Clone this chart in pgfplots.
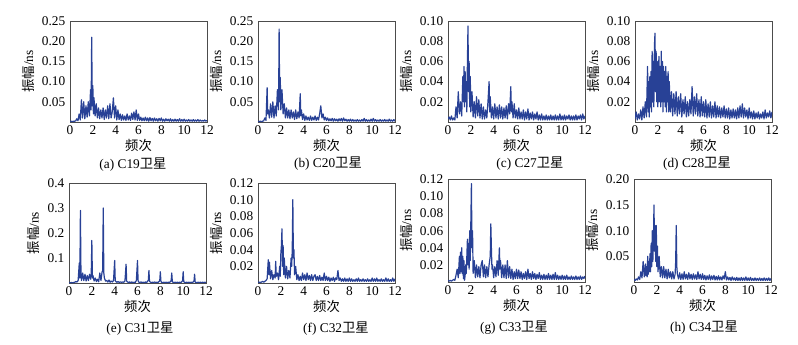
\documentclass[border=0pt]{standalone}
\usepackage{pgfplots}
\pgfplotsset{compat=1.18}
\usepackage{fontspec}
\setmainfont{Liberation Serif}
\newfontfamily\cjk{Noto Sans CJK SC}
\definecolor{sat}{RGB}{40,65,150}
\tikzset{sd/.style={draw=sat, line width=0.9pt, line join=round, mark=none}}
\pgfplotsset{
  sp/.style={
    scale only axis, width=102.75pt, anchor=south west,
    xmin=0, xmax=12, ymin=0, xtick={0,2,...,12},
    major tick length=0pt,
    axis line style={black!70, line width=0.5pt},
    tick label style={font=\fontsize{10}{11}\selectfont},
    label style={font=\fontsize{10}{11}\selectfont},
    xlabel={\cjk 频次}, ylabel={{\cjk 振幅}/ns},
    xlabel style={yshift=3pt},
    ylabel style={yshift=-1pt},
    xticklabel style={yshift=1pt},
    /pgf/number format/assume math mode=true,
    scaled y ticks=false,
    yticklabel style={/pgf/number format/.cd, fixed, fixed zerofill, precision=2},
    xticklabel style={/pgf/number format/.cd, fixed, precision=0},
  }
}
\begin{document}
\begin{tikzpicture}
\useasboundingbox (0,0) rectangle (598.5pt,258pt);
% (a) C19
\begin{axis}[sp, at={(52.5pt,166.5pt)}, height=75.75pt, ymax=0.25, ytick={0.05,0.10,0.15,0.20,0.25}]
\addplot[sd] coordinates {(0.0,.001)(0.1,.002)(0.2,.001)(0.3,.002)(0.4,.002)(0.5,.003)(0.6,.008)(0.7,.003)(0.8,.02)(0.9,.005)(1.0,.055)(1.1,.01)(1.2,.05)(1.3,.008)(1.4,.04)(1.5,.012)(1.6,.05)(1.7,.015)(1.8,.08)(1.85,.03)(1.9,.21)(1.95,.04)(2.0,.09)(2.05,.02)(2.1,.06)(2.2,.015)(2.3,.045)(2.4,.01)(2.5,.035)(2.6,.008)(2.7,.03)(2.8,.01)(2.9,.035)(3.0,.006)(3.1,.03)(3.2,.01)(3.3,.04)(3.4,.008)(3.5,.045)(3.6,.01)(3.7,.025)(3.8,.06)(3.9,.01)(4.0,.04)(4.1,.005)(4.2,.03)(4.3,.006)(4.4,.02)(4.5,.004)(4.6,.018)(4.7,.005)(4.8,.015)(4.9,.004)(5.0,.02)(5.1,.005)(5.2,.015)(5.3,.004)(5.4,.022)(5.5,.006)(5.6,.025)(5.7,.005)(5.8,.03)(5.9,.004)(6.0,.02)(6.1,.004)(6.2,.012)(6.3,.003)(6.4,.01)(6.5,.003)(6.6,.012)(6.7,.003)(6.8,.01)(6.9,.002)(7.0,.011)(7.1,.003)(7.2,.009)(7.3,.002)(7.4,.01)(7.5,.003)(7.6,.008)(7.7,.002)(7.8,.009)(7.9,.003)(8.0,.01)(8.1,.002)(8.2,.007)(8.3,.002)(8.4,.008)(8.5,.003)(8.6,.007)(8.7,.002)(8.8,.008)(8.9,.002)(9.0,.006)(9.1,.002)(9.2,.007)(9.3,.002)(9.4,.006)(9.5,.002)(9.6,.008)(9.7,.002)(9.8,.006)(9.9,.002)(10.0,.007)(10.1,.002)(10.2,.005)(10.3,.002)(10.4,.006)(10.5,.002)(10.6,.005)(10.7,.002)(10.8,.006)(10.9,.002)(11.0,.005)(11.1,.002)(11.2,.006)(11.3,.002)(11.4,.005)(11.5,.002)(11.6,.004)(11.7,.002)(11.8,.005)(11.9,.002)(12.0,.004)};
\end{axis}
% (b) C20
\begin{axis}[sp, at={(193.5pt,166.5pt)}, height=75.75pt, ymax=0.25, ytick={0.05,0.10,0.15,0.20,0.25}]
\addplot[sd] coordinates {(0.0,.001)(0.1,.001)(0.2,.002)(0.3,.001)(0.4,.002)(0.5,.003)(0.6,.01)(0.7,.004)(0.8,.085)(0.85,.02)(0.9,.03)(1.0,.01)(1.1,.045)(1.2,.012)(1.3,.05)(1.4,.01)(1.5,.04)(1.6,.015)(1.7,.08)(1.8,.03)(1.85,.23)(1.9,.05)(1.95,.11)(2.0,.03)(2.1,.08)(2.2,.02)(2.3,.045)(2.4,.01)(2.5,.035)(2.6,.01)(2.7,.03)(2.8,.008)(2.9,.03)(3.0,.01)(3.1,.025)(3.2,.006)(3.3,.03)(3.4,.008)(3.5,.025)(3.6,.01)(3.7,.07)(3.75,.015)(3.8,.03)(3.9,.006)(4.0,.02)(4.1,.004)(4.2,.015)(4.3,.005)(4.4,.012)(4.5,.004)(4.6,.015)(4.7,.004)(4.8,.012)(4.9,.005)(5.0,.015)(5.1,.004)(5.2,.012)(5.3,.005)(5.4,.02)(5.5,.04)(5.6,.01)(5.7,.02)(5.8,.005)(5.9,.012)(6.0,.004)(6.1,.01)(6.2,.003)(6.3,.008)(6.4,.003)(6.5,.009)(6.6,.002)(6.7,.008)(6.8,.003)(6.9,.007)(7.0,.002)(7.1,.008)(7.2,.003)(7.3,.009)(7.4,.002)(7.5,.01)(7.6,.003)(7.7,.007)(7.8,.002)(7.9,.006)(8.0,.002)(8.1,.007)(8.2,.002)(8.3,.006)(8.4,.002)(8.5,.005)(8.6,.002)(8.7,.006)(8.8,.002)(8.9,.005)(9.0,.002)(9.1,.006)(9.2,.002)(9.3,.009)(9.4,.002)(9.5,.006)(9.6,.002)(9.7,.005)(9.8,.002)(9.9,.007)(10.0,.002)(10.1,.009)(10.2,.002)(10.3,.006)(10.4,.002)(10.5,.005)(10.6,.002)(10.7,.006)(10.8,.002)(10.9,.005)(11.0,.002)(11.1,.006)(11.2,.002)(11.3,.005)(11.4,.002)(11.5,.007)(11.6,.002)(11.7,.005)(11.8,.002)(11.9,.006)(12.0,.002)};
\end{axis}
% (c) C27
\begin{axis}[sp, at={(336pt,166.5pt)}, height=75.75pt, ymax=0.10, ytick={0.02,0.04,0.06,0.08,0.10}]
\addplot[sd] coordinates {(0.0,.003)(0.1,.005)(0.2,.002)(0.3,.006)(0.4,.002)(0.5,.004)(0.6,.002)(0.7,.015)(0.8,.004)(0.9,.03)(1.0,.008)(1.1,.02)(1.2,.006)(1.3,.045)(1.35,.02)(1.4,.055)(1.45,.015)(1.5,.05)(1.55,.02)(1.6,.04)(1.65,.01)(1.7,.06)(1.75,.095)(1.8,.03)(1.85,.06)(1.9,.015)(1.95,.045)(2.0,.01)(2.1,.03)(2.2,.005)(2.3,.02)(2.4,.004)(2.5,.025)(2.6,.006)(2.7,.022)(2.8,.004)(2.9,.018)(3.0,.003)(3.1,.015)(3.2,.003)(3.3,.012)(3.4,.004)(3.5,.02)(3.6,.04)(3.65,.01)(3.7,.025)(3.8,.004)(3.9,.015)(4.0,.003)(4.1,.018)(4.2,.004)(4.3,.015)(4.4,.003)(4.5,.017)(4.6,.004)(4.7,.015)(4.8,.003)(4.9,.014)(5.0,.004)(5.1,.016)(5.2,.003)(5.3,.018)(5.4,.008)(5.5,.035)(5.55,.01)(5.6,.02)(5.7,.004)(5.8,.018)(5.9,.004)(6.0,.012)(6.1,.003)(6.2,.014)(6.3,.003)(6.4,.01)(6.5,.003)(6.6,.012)(6.7,.002)(6.8,.01)(6.9,.003)(7.0,.013)(7.1,.002)(7.2,.009)(7.3,.003)(7.4,.01)(7.5,.002)(7.6,.008)(7.7,.003)(7.8,.01)(7.9,.002)(8.0,.007)(8.1,.002)(8.2,.008)(8.3,.002)(8.4,.006)(8.5,.002)(8.6,.007)(8.7,.002)(8.8,.006)(8.9,.002)(9.0,.007)(9.1,.002)(9.2,.006)(9.3,.002)(9.4,.007)(9.5,.002)(9.6,.006)(9.7,.002)(9.8,.008)(9.9,.002)(10.0,.006)(10.1,.002)(10.2,.007)(10.3,.002)(10.4,.006)(10.5,.003)(10.6,.007)(10.7,.002)(10.8,.006)(10.9,.002)(11.0,.006)(11.1,.002)(11.2,.007)(11.3,.002)(11.4,.006)(11.5,.003)(11.6,.007)(11.7,.002)(11.8,.008)(11.9,.003)(12.0,.006)};
\end{axis}
% (d) C28
\begin{axis}[sp, at={(476.25pt,166.5pt)}, height=75.75pt, ymax=0.10, ytick={0.02,0.04,0.06,0.08,0.10}]
\addplot[sd] coordinates {(0.0,.003)(0.1,.01)(0.2,.002)(0.3,.008)(0.4,.003)(0.5,.012)(0.6,.002)(0.7,.015)(0.8,.004)(0.9,.02)(1.0,.005)(1.05,.03)(1.1,.055)(1.15,.01)(1.2,.04)(1.25,.005)(1.3,.045)(1.35,.015)(1.4,.05)(1.45,.01)(1.5,.07)(1.55,.02)(1.6,.06)(1.65,.015)(1.7,.075)(1.75,.088)(1.8,.03)(1.85,.07)(1.9,.02)(1.95,.06)(2.0,.015)(2.05,.05)(2.1,.065)(2.15,.02)(2.2,.055)(2.25,.015)(2.3,.07)(2.35,.02)(2.4,.06)(2.45,.01)(2.5,.055)(2.55,.02)(2.6,.05)(2.65,.015)(2.7,.055)(2.75,.01)(2.8,.045)(2.85,.02)(2.9,.05)(2.95,.01)(3.0,.04)(3.1,.01)(3.2,.03)(3.3,.006)(3.4,.028)(3.5,.008)(3.6,.03)(3.7,.006)(3.8,.025)(3.9,.008)(4.0,.028)(4.1,.005)(4.2,.022)(4.3,.008)(4.4,.025)(4.5,.005)(4.6,.02)(4.7,.006)(4.8,.022)(4.9,.008)(5.0,.035)(5.1,.006)(5.2,.025)(5.3,.008)(5.4,.028)(5.5,.006)(5.6,.022)(5.7,.005)(5.8,.025)(5.9,.006)(6.0,.02)(6.1,.005)(6.2,.022)(6.3,.004)(6.4,.018)(6.5,.005)(6.6,.02)(6.7,.004)(6.8,.016)(6.9,.005)(7.0,.02)(7.1,.004)(7.2,.016)(7.3,.005)(7.4,.015)(7.5,.004)(7.6,.014)(7.7,.005)(7.8,.016)(7.9,.004)(8.0,.013)(8.1,.004)(8.2,.014)(8.3,.003)(8.4,.012)(8.5,.004)(8.6,.013)(8.7,.004)(8.8,.012)(8.9,.003)(9.0,.014)(9.1,.004)(9.2,.016)(9.3,.005)(9.4,.018)(9.5,.004)(9.6,.014)(9.7,.005)(9.8,.012)(9.9,.003)(10.0,.014)(10.1,.004)(10.2,.01)(10.3,.003)(10.4,.011)(10.5,.003)(10.6,.009)(10.7,.004)(10.8,.01)(10.9,.003)(11.0,.008)(11.1,.004)(11.2,.01)(11.3,.003)(11.4,.012)(11.5,.004)(11.6,.009)(11.7,.005)(11.8,.011)(11.9,.004)(12.0,.01)};
\end{axis}
% (e) C31
\begin{axis}[sp, at={(51.75pt,45.75pt)}, height=75pt, ymax=0.4, ytick={0.1,0.2,0.3,0.4}, yticklabel style={/pgf/number format/.cd, fixed, fixed zerofill, precision=1}]
\addplot[sd] coordinates {(0.0,.002)(0.1,.001)(0.2,.002)(0.3,.001)(0.4,.002)(0.5,.003)(0.6,.006)(0.7,.004)(0.8,.01)(0.9,.08)(0.95,.02)(1.0,.29)(1.05,.03)(1.1,.01)(1.2,.04)(1.3,.01)(1.4,.035)(1.5,.008)(1.6,.03)(1.7,.01)(1.8,.035)(1.9,.015)(1.95,.04)(2.0,.17)(2.05,.02)(2.1,.03)(2.2,.008)(2.3,.02)(2.4,.006)(2.5,.015)(2.6,.005)(2.7,.04)(2.8,.01)(2.9,.045)(2.95,.05)(3.0,.30)(3.05,.04)(3.1,.02)(3.2,.008)(3.3,.01)(3.4,.004)(3.5,.012)(3.6,.003)(3.7,.008)(3.8,.004)(3.9,.01)(4.0,.09)(4.05,.01)(4.1,.006)(4.2,.003)(4.3,.006)(4.4,.002)(4.5,.005)(4.6,.002)(4.7,.004)(4.8,.003)(4.9,.008)(5.0,.075)(5.05,.008)(5.1,.005)(5.2,.002)(5.3,.004)(5.4,.002)(5.5,.004)(5.6,.002)(5.7,.003)(5.8,.002)(5.9,.01)(6.0,.09)(6.05,.01)(6.1,.004)(6.2,.002)(6.3,.004)(6.4,.002)(6.5,.003)(6.6,.002)(6.7,.004)(6.8,.002)(6.9,.008)(6.95,.012)(7.0,.05)(7.05,.008)(7.1,.004)(7.2,.002)(7.3,.003)(7.4,.002)(7.5,.004)(7.6,.002)(7.7,.003)(7.8,.002)(7.9,.007)(7.95,.01)(8.0,.045)(8.05,.008)(8.1,.003)(8.2,.002)(8.3,.003)(8.4,.002)(8.5,.003)(8.6,.002)(8.7,.003)(8.8,.002)(8.9,.006)(8.95,.01)(9.0,.04)(9.05,.006)(9.1,.003)(9.2,.002)(9.3,.003)(9.4,.002)(9.5,.003)(9.6,.002)(9.7,.003)(9.8,.002)(9.9,.006)(9.95,.01)(10.0,.045)(10.05,.006)(10.1,.003)(10.2,.002)(10.3,.003)(10.4,.002)(10.5,.003)(10.6,.002)(10.7,.003)(10.8,.002)(10.9,.005)(10.95,.008)(11.0,.035)(11.05,.005)(11.1,.002)(11.2,.002)(11.3,.003)(11.4,.002)(11.5,.003)(11.6,.002)(11.7,.003)(11.8,.002)(11.9,.003)(12.0,.002)};
\end{axis}
% (f) C32
\begin{axis}[sp, at={(193.5pt,45.75pt)}, height=75pt, ymax=0.12, ytick={0.02,0.04,0.06,0.08,0.10,0.12}]
\addplot[sd] coordinates {(0.0,.001)(0.1,.001)(0.2,.001)(0.3,.001)(0.4,.002)(0.5,.001)(0.6,.002)(0.7,.003)(0.8,.005)(0.9,.028)(0.95,.01)(1.0,.025)(1.1,.005)(1.2,.015)(1.3,.004)(1.4,.01)(1.5,.006)(1.55,.026)(1.6,.008)(1.7,.012)(1.8,.004)(1.9,.02)(1.95,.008)(2.0,.035)(2.05,.045)(2.1,.065)(2.15,.02)(2.2,.045)(2.25,.01)(2.3,.03)(2.4,.006)(2.5,.02)(2.6,.005)(2.7,.015)(2.8,.006)(2.9,.03)(2.95,.02)(3.0,.04)(3.05,.10)(3.1,.03)(3.15,.04)(3.2,.01)(3.3,.02)(3.4,.004)(3.5,.01)(3.6,.003)(3.7,.008)(3.8,.003)(3.9,.012)(4.0,.004)(4.1,.01)(4.2,.003)(4.3,.012)(4.4,.004)(4.5,.009)(4.6,.003)(4.7,.01)(4.8,.003)(4.9,.008)(5.0,.01)(5.1,.003)(5.2,.008)(5.3,.003)(5.4,.009)(5.5,.003)(5.6,.007)(5.7,.003)(5.8,.012)(5.9,.003)(6.0,.008)(6.1,.003)(6.2,.007)(6.3,.002)(6.4,.006)(6.5,.003)(6.6,.007)(6.7,.002)(6.8,.006)(6.9,.004)(7.0,.015)(7.1,.003)(7.2,.006)(7.3,.002)(7.4,.005)(7.5,.002)(7.6,.006)(7.7,.002)(7.8,.005)(7.9,.002)(8.0,.006)(8.1,.002)(8.2,.005)(8.3,.002)(8.4,.004)(8.5,.002)(8.6,.005)(8.7,.002)(8.8,.006)(8.9,.002)(9.0,.004)(9.1,.002)(9.2,.005)(9.3,.002)(9.4,.004)(9.5,.002)(9.6,.005)(9.7,.002)(9.8,.004)(9.9,.002)(10.0,.006)(10.1,.002)(10.2,.005)(10.3,.002)(10.4,.006)(10.5,.002)(10.6,.004)(10.7,.002)(10.8,.005)(10.9,.002)(11.0,.004)(11.1,.002)(11.2,.006)(11.3,.002)(11.4,.005)(11.5,.002)(11.6,.004)(11.7,.002)(11.8,.006)(11.9,.002)(12.0,.005)};
\end{axis}
% (g) C33
\begin{axis}[sp, at={(336pt,46.5pt)}, height=77pt, ymax=0.12, ytick={0.02,0.04,0.06,0.08,0.10,0.12}]
\addplot[sd] coordinates {(0.0,.002)(0.1,.001)(0.2,.002)(0.3,.001)(0.4,.002)(0.5,.003)(0.6,.002)(0.7,.008)(0.8,.015)(0.9,.005)(1.0,.03)(1.05,.01)(1.1,.035)(1.15,.012)(1.2,.04)(1.25,.01)(1.3,.03)(1.35,.004)(1.4,.025)(1.45,.002)(1.5,.008)(1.55,.02)(1.6,.01)(1.65,.03)(1.7,.05)(1.75,.02)(1.8,.045)(1.85,.015)(1.9,.06)(1.95,.025)(2.0,.07)(2.05,.115)(2.1,.04)(2.15,.06)(2.2,.01)(2.3,.025)(2.4,.005)(2.5,.02)(2.6,.006)(2.7,.018)(2.8,.005)(2.9,.02)(3.0,.025)(3.1,.006)(3.2,.02)(3.3,.005)(3.4,.018)(3.5,.006)(3.6,.02)(3.7,.03)(3.75,.068)(3.8,.04)(3.85,.015)(3.9,.02)(4.0,.005)(4.1,.018)(4.2,.006)(4.3,.025)(4.4,.008)(4.5,.04)(4.55,.015)(4.6,.025)(4.7,.005)(4.8,.02)(4.9,.005)(5.0,.02)(5.1,.004)(5.2,.025)(5.3,.005)(5.4,.018)(5.5,.004)(5.6,.015)(5.7,.003)(5.8,.012)(5.9,.004)(6.0,.015)(6.1,.004)(6.2,.014)(6.3,.004)(6.4,.012)(6.5,.003)(6.6,.01)(6.7,.004)(6.8,.012)(6.9,.003)(7.0,.015)(7.1,.004)(7.2,.01)(7.3,.003)(7.4,.012)(7.5,.004)(7.6,.01)(7.7,.003)(7.8,.009)(7.9,.004)(8.0,.011)(8.1,.003)(8.2,.008)(8.3,.003)(8.4,.009)(8.5,.003)(8.6,.008)(8.7,.003)(8.8,.01)(8.9,.003)(9.0,.008)(9.1,.003)(9.2,.009)(9.3,.003)(9.4,.011)(9.5,.003)(9.6,.008)(9.7,.003)(9.8,.007)(9.9,.003)(10.0,.008)(10.1,.003)(10.2,.007)(10.3,.003)(10.4,.008)(10.5,.003)(10.6,.006)(10.7,.003)(10.8,.007)(10.9,.003)(11.0,.006)(11.1,.003)(11.2,.007)(11.3,.003)(11.4,.006)(11.5,.003)(11.6,.007)(11.7,.003)(11.8,.006)(11.9,.004)(12.0,.007)};
\end{axis}
% (h) C34
\begin{axis}[sp, at={(475.5pt,46.5pt)}, height=77pt, ymax=0.20, ytick={0.05,0.10,0.15,0.20}]
\addplot[sd] coordinates {(0.0,.005)(0.1,.003)(0.2,.006)(0.3,.004)(0.4,.01)(0.5,.005)(0.6,.02)(0.7,.008)(0.8,.04)(0.9,.01)(1.0,.035)(1.05,.012)(1.1,.03)(1.15,.01)(1.2,.05)(1.25,.015)(1.3,.04)(1.35,.02)(1.4,.055)(1.45,.02)(1.5,.075)(1.55,.03)(1.6,.1)(1.65,.04)(1.7,.08)(1.75,.15)(1.8,.06)(1.85,.11)(1.9,.04)(1.95,.11)(2.0,.03)(2.05,.07)(2.1,.02)(2.2,.05)(2.3,.01)(2.4,.03)(2.5,.008)(2.6,.03)(2.7,.008)(2.8,.025)(2.9,.006)(3.0,.025)(3.1,.008)(3.2,.02)(3.3,.006)(3.4,.02)(3.5,.006)(3.6,.015)(3.65,.04)(3.7,.11)(3.75,.03)(3.8,.015)(3.9,.006)(4.0,.018)(4.1,.005)(4.2,.016)(4.3,.005)(4.4,.02)(4.5,.006)(4.6,.015)(4.7,.005)(4.8,.018)(4.9,.006)(5.0,.015)(5.1,.005)(5.2,.016)(5.3,.006)(5.4,.014)(5.5,.005)(5.6,.02)(5.7,.006)(5.8,.015)(5.9,.005)(6.0,.016)(6.1,.005)(6.2,.013)(6.3,.004)(6.4,.012)(6.5,.005)(6.6,.014)(6.7,.004)(6.8,.012)(6.9,.005)(7.0,.013)(7.1,.004)(7.2,.011)(7.3,.004)(7.4,.012)(7.5,.004)(7.6,.01)(7.7,.004)(7.8,.012)(7.9,.006)(8.0,.02)(8.1,.004)(8.2,.01)(8.3,.004)(8.4,.009)(8.5,.003)(8.6,.01)(8.7,.004)(8.8,.008)(8.9,.003)(9.0,.009)(9.1,.003)(9.2,.008)(9.3,.003)(9.4,.009)(9.5,.003)(9.6,.008)(9.7,.003)(9.8,.01)(9.9,.003)(10.0,.008)(10.1,.003)(10.2,.009)(10.3,.003)(10.4,.007)(10.5,.003)(10.6,.008)(10.7,.003)(10.8,.007)(10.9,.003)(11.0,.008)(11.1,.003)(11.2,.007)(11.3,.003)(11.4,.008)(11.5,.003)(11.6,.007)(11.7,.003)(11.8,.008)(11.9,.003)(12.0,.007)};
\end{axis}
% captions
\begin{scope}[every node/.style={font=\fontsize{10}{11}\selectfont, inner sep=0pt}]
\node at (99.75pt,134.25pt) {(a) C19{\cjk 卫星}};
\node at (246pt,135pt) {(b) C20{\cjk 卫星}};
\node at (397.5pt,135pt) {(c) C27{\cjk 卫星}};
\node at (522.75pt,135pt) {(d) C28{\cjk 卫星}};
\node at (105pt,11.25pt) {(e) C31{\cjk 卫星}};
\node at (252pt,11.25pt) {(f) C32{\cjk 卫星}};
\node at (385.5pt,12pt) {(g) C33{\cjk 卫星}};
\node at (528pt,12pt) {(h) C34{\cjk 卫星}};
\end{scope}
\end{tikzpicture}
\end{document}
